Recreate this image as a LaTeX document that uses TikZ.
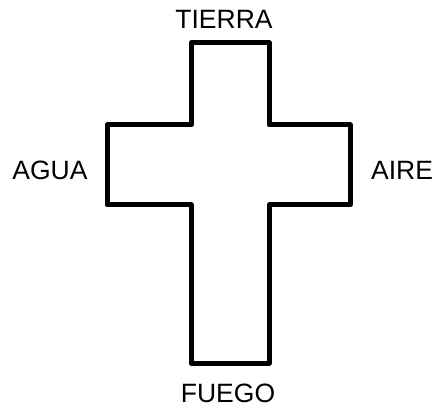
\documentclass[tikz,border=0pt]{standalone}
\usepackage{fontspec}
\setmainfont{Liberation Sans}
\begin{document}
\begin{tikzpicture}[x=1pt,y=-1pt]
\tikzstyle{etiqueta} = [inner sep=0pt, font=\fontsize{26.5}{31}\selectfont] % estilo de los rotulos
\tikzstyle{cruz} = [line width=5pt, line join=round] % estilo del contorno
\useasboundingbox (0,0) rectangle (436,411);

% contorno de la cruz
\draw[cruz] (191,43) -- (269,43) -- (269,125) -- (350,125) -- (350,205)
    -- (269,205) -- (269,363) -- (191,363) -- (191,205) -- (107,205)
    -- (107,125) -- (191,125) -- cycle;

% los cuatro elementos
\node[etiqueta] (tierra) at (224,19) {TIERRA};
\node[etiqueta] (agua) at (50,170) {AGUA};
\node[etiqueta] (aire) at (402,170) {AIRE};
\node[etiqueta] (fuego) at (228,393) {FUEGO};
\end{tikzpicture}
\end{document}
